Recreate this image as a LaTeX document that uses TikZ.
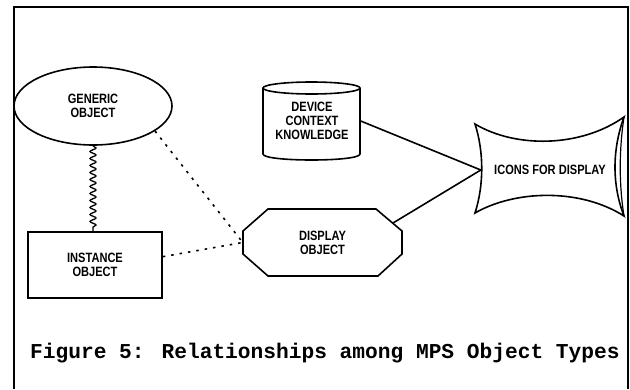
\documentclass[tikz,border=0pt]{standalone}
\usepackage{fontspec}
\setmainfont{Liberation Sans}
\newfontfamily\boxfont[FakeStretch=0.82]{Liberation Sans}
\newfontfamily\capfont{Liberation Mono}
\usetikzlibrary{shapes.geometric,decorations.pathmorphing}
\begin{document}
\begin{tikzpicture}[x=1pt,y=-1pt,
  shp/.style={draw=black, line width=1.6pt},
  lbl/.style={font=\boxfont\bfseries\fontsize{13.5}{14}\selectfont, align=center, inner sep=0pt},
  dotline/.style={line width=1.6pt, dash pattern=on 2.5pt off 6pt},
  link/.style={line width=1.6pt},
  wave/.style={line width=1.3pt, decorate, decoration={snake, amplitude=3pt, segment length=7pt, post length=3pt}}
]
\useasboundingbox (0,0) rectangle (630,389);
% frame
\draw[line width=2pt] (14,389) -- (14,7) -- (628,7) -- (628,389);

% generic object
\node[lbl, shp, ellipse, minimum width=158pt, minimum height=78pt] (gen) at (93,106) {GENERIC\\OBJECT};
% instance object
\node[lbl, shp, rectangle, minimum width=134pt, minimum height=66pt] (inst) at (95,265) {INSTANCE\\OBJECT};

% device context knowledge (cylinder)
\draw[shp] (263,88) -- (263,154) .. controls (263,162) and (360,162) .. (360,154) -- (360,88);
\draw[shp] (311.5,88) ellipse [x radius=48.5pt, y radius=6pt];
\node[lbl, minimum width=97pt, minimum height=78pt] (dev) at (312,121) {DEVICE\\CONTEXT\\KNOWLEDGE};

% display object (octagon)
\draw[shp] (243,231) -- (268,209) -- (376,209) -- (402,231) -- (402,254) -- (378,276) -- (268,276) -- (243,254) -- cycle;
\node[lbl, minimum width=159pt, minimum height=67pt] (dis) at (322.5,242.5) {DISPLAY\\OBJECT};

% icons for display
\draw[shp] (475,124) .. controls (515,148) and (580,148) .. (624,117)
  .. controls (612,150) and (612,185) .. (624,216)
  .. controls (580,188) and (515,190) .. (475,213)
  .. controls (484,185) and (484,152) .. cycle;
\draw[line width=1.2pt] (624,117) .. controls (619,150) and (619,185) .. (624,216);
\node[lbl, minimum width=150pt, minimum height=96pt] (ico) at (550,170) {ICONS FOR DISPLAY};

% connectors
\coordinate (icoW) at ([xshift=6pt]ico.west);
\coordinate (disNE) at (393,223);
\draw[wave] (gen.south) -- (gen.south |- inst.north);
\draw[dotline] (gen.-22) -- (dis.west);
\draw[dotline] (inst.7) -- (dis.west);
\draw[link] (dev.east) -- (icoW);
\draw[link] (disNE) -- (icoW);

% caption
\node[font=\capfont\bfseries\fontsize{21.2}{24}\selectfont, inner sep=0pt, anchor=base west] (cap) at (30,358) {Figure 5: Relationships among MPS Object Types};
\end{tikzpicture}
\end{document}
